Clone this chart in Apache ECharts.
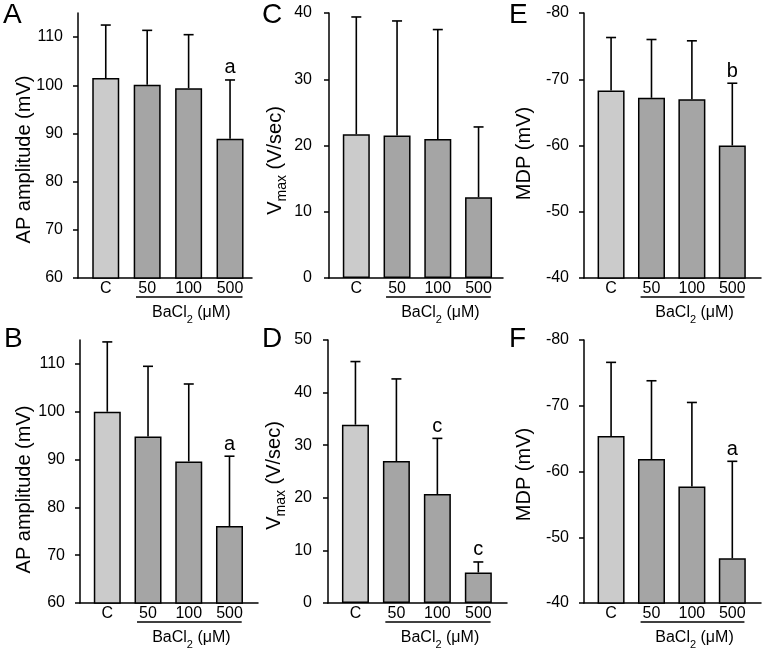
<!DOCTYPE html>
<html><head><meta charset="utf-8">
<script src="https://cdn.jsdelivr.net/npm/echarts@6/dist/echarts.min.js"></script>
<style>html,body{margin:0;padding:0;background:#fff}#c{width:765px;height:658px}</style>
</head><body><div id="c"></div>
<script>
// ---------- data ----------
const categories = ['C', '50', '100', '500'];
const xPositions = [1, 2, 3, 4];
const bracketRange = [1.73, 4.3];

const apTicks = [60, 70, 80, 90, 100, 110];
const vmaxTicksC = [0, 10, 20, 30, 40];
const vmaxTicksD = [0, 10, 20, 30, 40, 50];
const mdpTicks = [-80, -70, -60, -50, -40];

const apAmpA = [101.5, 100.1, 99.4, 88.9];
const apAmpAErr = [11.0, 11.3, 11.1, 12.2];
const apAmpASig = ['', '', '', 'a'];

const apAmpB = [100.0, 94.8, 89.6, 76.1];
const apAmpBErr = [14.6, 14.7, 16.2, 14.6];
const apAmpBSig = ['', '', '', 'a'];

const vmaxC = [21.7, 21.5, 21.0, 12.2];
const vmaxCErr = [17.7, 17.3, 16.5, 10.6];
const vmaxCSig = ['', '', '', ''];

const vmaxD = [33.9, 27.0, 20.7, 5.8];
const vmaxDErr = [12.0, 15.6, 10.6, 2.0];
const vmaxDSig = ['', '', 'c', 'c'];

const mdpE = [-68.3, -67.2, -67.0, -60.0];
const mdpEErr = [8.0, 8.8, 8.8, 9.4];
const mdpESig = ['', '', '', 'b'];

const mdpF = [-65.4, -61.9, -57.7, -46.8];
const mdpFErr = [11.2, 11.9, 12.8, 14.75];
const mdpFSig = ['', '', '', 'a'];

// ---------- styling / layout ----------
const FONT = 'Liberation Sans, Arial, sans-serif';
const LIGHT = '#cbcbcb';
const DARK = '#a5a5a5';
const AP_NAME = 'AP amplitude (mV)';
const VMAX_NAME = '{v|V}{s|max}{v| (V/sec)}';
const MDP_NAME = 'MDP (mV)';

const panels = [
  {letter: 'A', means: apAmpA, errs: apAmpAErr, sig: apAmpASig, ticks: apTicks, yMin: 60, yMax: 115, inverse: false,
   name: AP_NAME, grid: {left: 78, top: 13, width: 174, height: 265}, xMax: 4.53, nameGap: 44, shift: 14, margin: 15, lp: {left: 3, top: 1}},
  {letter: 'B', means: apAmpB, errs: apAmpBErr, sig: apAmpBSig, ticks: apTicks, yMin: 60, yMax: 115, inverse: false,
   name: AP_NAME, grid: {left: 80, top: 340, width: 178, height: 263}, xMax: 4.7, nameGap: 46, shift: 18, margin: 15, lp: {left: 4, top: 325}},
  {letter: 'C', means: vmaxC, errs: vmaxCErr, sig: vmaxCSig, ticks: vmaxTicksC, yMin: 0, yMax: 40, inverse: false,
   name: VMAX_NAME, grid: {left: 329, top: 13, width: 174, height: 265}, xMax: 4.6, nameGap: 40, shift: 15, margin: 17, lp: {left: 262, top: 1}},
  {letter: 'D', means: vmaxD, errs: vmaxDErr, sig: vmaxDSig, ticks: vmaxTicksD, yMin: 0, yMax: 50, inverse: false,
   name: VMAX_NAME, grid: {left: 328, top: 340, width: 179, height: 263}, xMax: 4.7, nameGap: 40, shift: 4, margin: 16, lp: {left: 262, top: 325}},
  {letter: 'E', means: mdpE, errs: mdpEErr, sig: mdpESig, ticks: mdpTicks, yMin: -80, yMax: -40, inverse: true,
   name: MDP_NAME, grid: {left: 584, top: 13, width: 177, height: 265}, xMax: 4.71, nameGap: 50, shift: 8, margin: 15, lp: {left: 509, top: 1}},
  {letter: 'F', means: mdpF, errs: mdpFErr, sig: mdpFSig, ticks: mdpTicks, yMin: -80, yMax: -40, inverse: true,
   name: MDP_NAME, grid: {left: 584, top: 340, width: 177, height: 263}, xMax: 4.71, nameGap: 50, shift: 3, margin: 15, lp: {left: 509, top: 325}}
];

const option = {
  animation: false,
  backgroundColor: '#fff',
  textStyle: {fontFamily: FONT, color: '#000'},
  title: [], grid: [], xAxis: [], yAxis: [], series: []
};

panels.forEach((p, k) => {
  option.title.push({text: p.letter, left: p.lp.left, top: p.lp.top, padding: 0,
    textStyle: {fontSize: 28, fontWeight: 'normal', fontFamily: FONT, color: '#000'}});
  option.grid.push(Object.assign({containLabel: false, outerBoundsMode: 'none'}, p.grid));
  option.xAxis.push({
    type: 'value', gridIndex: k, min: 0.33, max: p.xMax,
    axisLine: {show: true, onZero: false, lineStyle: {color: '#000', width: 1.5}},
    axisTick: {show: false},
    splitLine: {show: false},
    axisLabel: {customValues: xPositions, formatter: v => categories[xPositions.indexOf(v)] || '',
      fontSize: 16, fontFamily: FONT, color: '#000', margin: 3}
  });
  option.yAxis.push({
    type: 'value', gridIndex: k, min: p.yMin, max: p.yMax, inverse: p.inverse,
    name: p.name, nameLocation: 'middle', nameRotate: 90, nameGap: p.nameGap, nameMoveOverlap: false,
    nameTextStyle: {fontSize: 20, fontFamily: FONT, color: '#000', padding: [0, 2 * p.shift, 0, 0],
      rich: {v: {fontSize: 20, fontFamily: FONT, color: '#000', lineHeight: 27},
             s: {fontSize: 14, fontFamily: FONT, color: '#000', lineHeight: 14, verticalAlign: 'bottom'}}},
    axisLine: {show: true, onZero: false, lineStyle: {color: '#000', width: 1.5}},
    axisTick: {show: true, inside: false, length: 5, customValues: p.ticks, lineStyle: {color: '#000', width: 1.5}},
    splitLine: {show: false},
    axisLabel: {customValues: p.ticks, fontSize: 16, fontFamily: FONT, color: '#000', margin: p.margin}
  });
  // bars
  option.series.push({
    type: 'bar', xAxisIndex: k, yAxisIndex: k, barWidth: 27, clip: true, z: 2,
    data: xPositions.map((x, i) => ({value: [x, p.means[i]],
      itemStyle: {color: i === 0 ? LIGHT : DARK, borderColor: '#000', borderWidth: 1.5}}))
  });
  // error bars + significance letters
  option.series.push({
    type: 'custom', xAxisIndex: k, yAxisIndex: k, z: 3, clip: false,
    data: xPositions.map((x, i) => [x, p.means[i], p.errs[i]]),
    encode: {x: 0, y: 1},
    renderItem: (params, api) => {
      const i = params.dataIndex;
      const m = p.means[i], e = p.errs[i];
      const end = m + Math.sign(m) * e;
      const p0 = api.coord([xPositions[i], m]);
      const p1 = api.coord([xPositions[i], end]);
      const children = [
        {type: 'line', shape: {x1: p0[0], y1: p0[1], x2: p1[0], y2: p1[1]}, style: {stroke: '#000', lineWidth: 1.6}},
        {type: 'line', shape: {x1: p1[0] - 5, y1: p1[1], x2: p1[0] + 5, y2: p1[1]}, style: {stroke: '#000', lineWidth: 1.6}}
      ];
      if (p.sig[i]) {
        children.push({type: 'text', style: {text: p.sig[i], x: p1[0], y: p1[1] - 2, align: 'center',
          verticalAlign: 'bottom', fontSize: 20, fontFamily: FONT, fill: '#000'}});
      }
      return {type: 'group', children};
    }
  });
  // BaCl2 bracket
  const base = p.inverse ? p.yMax : p.yMin;
  option.series.push({
    type: 'custom', xAxisIndex: k, yAxisIndex: k, z: 3, clip: false,
    data: [[bracketRange[0], base, bracketRange[1]]],
    encode: {x: 0, y: 1},
    renderItem: (params, api) => {
      const a = api.coord([bracketRange[0], base]);
      const b = api.coord([bracketRange[1], base]);
      const y = a[1] + 19;
      return {type: 'group', children: [
        {type: 'line', shape: {x1: a[0], y1: y, x2: b[0], y2: y}, style: {stroke: '#000', lineWidth: 1.5}},
        {type: 'text', style: {text: '{n|BaCl}{s|2}{n| (μM)}', x: (a[0] + b[0]) / 2 + 2, y: y + 16,
          align: 'center', verticalAlign: 'middle',
          rich: {n: {fontSize: 16, fontFamily: FONT, fill: '#000', lineHeight: 24},
                 s: {fontSize: 11, fontFamily: FONT, fill: '#000', lineHeight: 11, verticalAlign: 'bottom'}}}}
      ]};
    }
  });
});

const chart = echarts.init(document.getElementById('c'), null, {renderer: 'canvas'});
chart.setOption(option);
</script>
</body></html>
